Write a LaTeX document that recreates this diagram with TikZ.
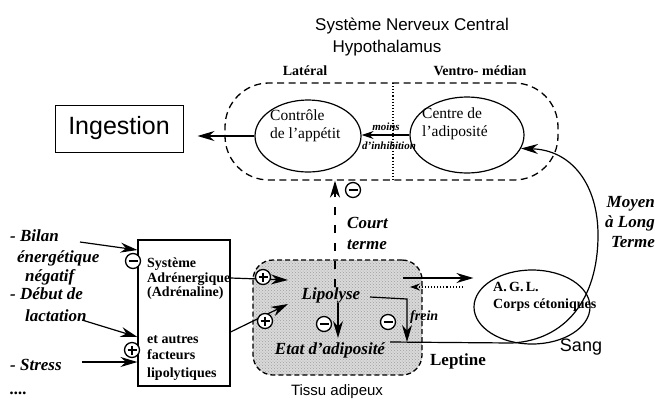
\documentclass[tikz,border=0pt]{standalone}
\usepackage{fontspec}
\setmainfont{Liberation Serif}
\setsansfont{Liberation Sans}
\usetikzlibrary{arrows.meta,shapes.geometric,patterns}
\newcommand\fsz[2]{\fontsize{#1}{#2}\selectfont}
\begin{document}
\begin{tikzpicture}[x=1pt,y=-1pt,
  arr/.style={-{Stealth[length=17pt,width=10pt]}, line width=1.2pt},
  sgn/.style={circle, draw, line width=1.3pt, fill=white, inner sep=0pt, minimum size=15pt},
  sminus/.style={sgn, path picture={\draw[line width=1.6pt] ([xshift=3pt]path picture bounding box.west) -- ([xshift=-3pt]path picture bounding box.east);}},
  splus/.style={sgn, path picture={\draw[line width=1.6pt] ([xshift=3pt]path picture bounding box.west) -- ([xshift=-3pt]path picture bounding box.east) ([yshift=-3pt]path picture bounding box.north) -- ([yshift=3pt]path picture bounding box.south);}},
  bi/.style={font=\bfseries\itshape\fsz{17}{20}, inner sep=0pt},
  bx/.style={font=\bfseries\fsz{14}{15}, inner sep=0pt, anchor=base west},
  sr/.style={font=\fsz{15.5}{18}, inner sep=0pt, align=left},
  sans/.style={font=\sffamily\fsz{17}{19}, inner sep=0pt}
]
\useasboundingbox (0,0) rectangle (655,400);

% Titles
\node[sans] (t1) at (412,26) {Système Nerveux Central};
\node[sans] (t2) at (387,48) {Hypothalamus};
\node[font=\bfseries\fsz{14}{16}, inner sep=0pt] (lat) at (305,71) {Latéral};
\node[font=\bfseries\fsz{14}{16}, inner sep=0pt] (vm) at (480,71) {Ventro- médian};

% SNC dashed box
\node[draw, line width=1.3pt, dash pattern=on 7pt off 4.5pt, rounded corners=44pt,
      minimum width=333pt, minimum height=97pt] (snc) at (391.5,131.5) {};
\coordinate (dtop) at (393,83);
\coordinate (dbot) at (393,180);
\draw[dotted, line width=1.1pt] (dtop) -- (dbot);

% Ellipses
\node[draw, ellipse, line width=1.2pt, minimum width=106pt, minimum height=72pt] (ctrl) at (308,136) {};
\node[sr, anchor=north west] (ctrlt) at (270,110) {Contrôle\\de l'appétit};
\node[draw, ellipse, line width=1.2pt, minimum width=114pt, minimum height=76pt] (centre) at (467,135) {};
\node[sr, anchor=north west] (centret) at (422,108) {Centre de\\l'adiposité};

% Ingestion
\node[draw, line width=1pt, minimum width=128pt, minimum height=47pt,
      font=\sffamily\fsz{25}{27}] (ing) at (119,128.5) {Ingestion};
\draw[arr, shorten >=14pt] (ctrl.west) -- (ing.east |- ctrl.west);

% moins d'inhibition
\draw[-{Stealth[length=12pt,width=8pt]}, line width=1.2pt] (centre.west |- 0,135) -- (ctrl.east |- 0,135);
\node[font=\bfseries\itshape\fsz{11}{12}, inner sep=0pt] (moins) at (386,127) {moins};
\node[font=\bfseries\itshape\fsz{11}{12}, inner sep=0pt] (inhib) at (389,146) {d'inhibition};

% Adipose tissue
\node[draw, line width=1.3pt, dash pattern=on 5pt off 3pt, rounded corners=20pt,
      preaction={fill=gray!30}, pattern=crosshatch dots, pattern color=gray!75,
      minimum width=169pt, minimum height=115pt] (tissu) at (337.5,317.5) {};
\node[sans, font=\sffamily\fsz{15}{17}] (tissut) at (337,392) {Tissu adipeux};
\node[bi] (lipo) at (331,295) {Lipolyse};
\node[bi] (etat) at (330,350) {Etat d'adiposité};

% Court terme
\draw[arr, dash pattern=on 8pt off 10pt, line width=2pt] (lipo.north -| 335,0) -- (snc.south -| 335,0);
\node[sminus] (m1) at (353,190) {};
\node[bi, anchor=base west] (court) at (347,228) {Court};
\node[bi, anchor=base west] (terme) at (347,249) {terme};

% inside tissue arrows
\coordinate (l1) at (338,303);
\coordinate (l2) at (338,338);
\draw[arr] (l1) -- (l2);
\node[sminus] (m2) at (324,324) {};
\coordinate (f1) at (370,297);
\coordinate (f2) at (407,299);
\coordinate (f3) at (407,342);
\draw[arr] (f1) -- (f2) -- (f3);
\node[sminus] (m3) at (388,322) {};
\node[font=\bfseries\itshape\fsz{14}{16}, inner sep=0pt, anchor=base west] (frein) at (410,320) {frein};

% Left box
\node[draw, line width=1.1pt, minimum width=92pt, minimum height=146pt] (lbox) at (184,313) {};
\node[bx] (b1) at (147,267) {Système};
\node[bx] (b2) at (147,282) {Adrénergique};
\node[bx] (b3) at (147,296) {(Adrénaline)};
\node[bx] (b4) at (147,343) {et autres};
\node[bx] (b5) at (147,359) {facteurs};
\node[bx] (b6) at (147,377) {lipolytiques};

% Left labels
\node[bi, anchor=base west] (lb1) at (10,241) {- Bilan};
\node[bi, anchor=base west] (lb2) at (17,262) {énergétique};
\node[bi, anchor=base west] (lb3) at (25,281) {négatif};
\node[bi, anchor=base west] (lb4) at (10,299) {- Début de};
\node[bi, anchor=base west] (lb5) at (25,321) {lactation};
\node[bi, anchor=base west] (lb6) at (10,370) {- Stress};
\node[bi, anchor=base west] (lb7) at (10,394) {....};

\coordinate (a1) at (80,242);
\coordinate (a2) at (82,320);
\coordinate (a3) at (82,362);
\draw[arr] (a1) -- (lbox.west |- 0,250);
\draw[arr] (a2) -- (lbox.west |- 0,337);
\draw[arr] (a3) -- (lbox.west |- 0,362);
\node[sminus] (m4) at (133,261) {};
\node[splus] (p1) at (132,350) {};

% Left box to tissue
\coordinate (g1) at (288,280);
\coordinate (g2) at (288,304);
\draw[arr] (lbox.east |- 0,278) -- (g1);
\draw[arr] (lbox.east |- 0,332) -- (g2);
\node[splus] (p2) at (263,277) {};
\node[splus] (p3) at (265,321) {};

% AGL
\node[draw, ellipse, line width=1.2pt, minimum width=116pt, minimum height=74pt] (agl) at (532,307) {};
\node[font=\bfseries\fsz{14}{17}, inner sep=0pt, align=left, anchor=north west] (aglt) at (493,282) {A.\,G.\,L.\\Corps cétoniques};
\coordinate (s1) at (403,278);
\coordinate (s2) at (463,287);
\coordinate (s3) at (410,287);
\draw[arr] (s1) -- (agl.west |- s1);
\draw[-{Stealth[length=10pt,width=7pt]}, line width=1.1pt, dotted] (s2) -- (s3);

% Leptine / long term curve
\coordinate (lep) at (390,342);
\coordinate (lepm) at (512,343);
\draw[arr] (lep) -- (lepm) .. controls (565,340) and (598,300) .. (598,235)
   .. controls (598,185) and (572,150) .. (centre.-14);
\node[font=\bfseries\fsz{17}{19}, inner sep=0pt] (lept) at (458,361) {Leptine};
\node[sans, font=\sffamily\fsz{18}{20}] (sang) at (581,347) {Sang};
\node[bi, align=right, anchor=east] (moyen) at (655,222) {Moyen\\à Long\\Terme};
\end{tikzpicture}
\end{document}
